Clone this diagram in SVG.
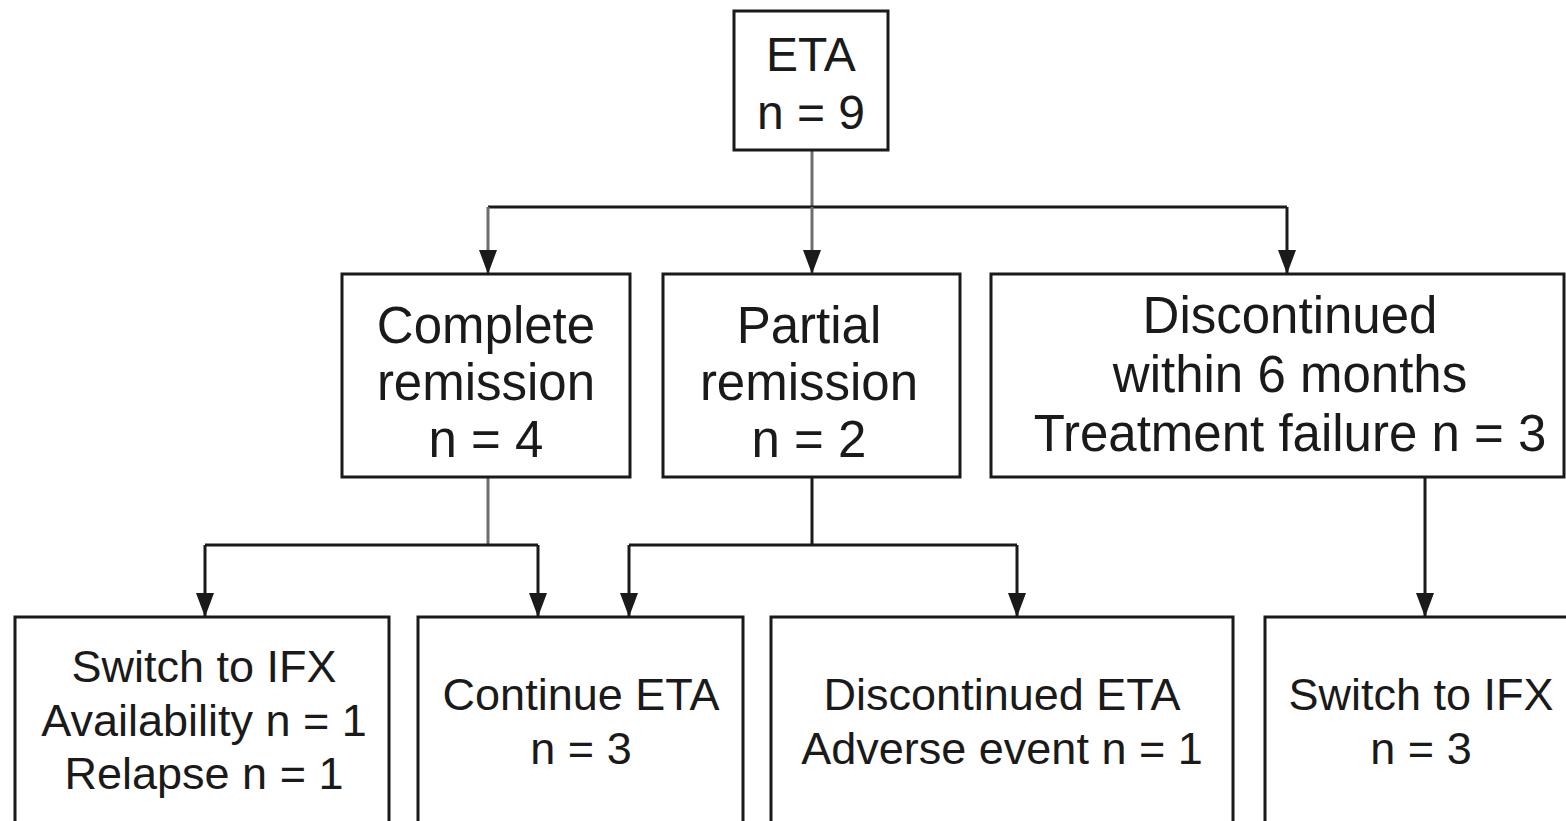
<svg xmlns="http://www.w3.org/2000/svg" width="1566" height="821" viewBox="0 0 1566 821">
  <style>
    .box { fill: #ffffff; stroke: #1a1a1a; stroke-width: 3; }
    .lbl { font-family: "Liberation Sans", Arial, Helvetica, sans-serif; fill: #1a1a1a; text-anchor: middle; }
    .top { font-size: 48px; }
    .mid { font-size: 51px; }
    .low { font-size: 45px; }
    .wire { fill: none; stroke: #1a1a1a; stroke-width: 3; }
    .soft { stroke: #6e6e6e; }
  </style>
  <defs>
    <marker id="arrow" viewBox="0 -9 24 18" refX="24" refY="0" markerWidth="24" markerHeight="18" markerUnits="userSpaceOnUse" orient="auto">
      <path d="M0,-9 L24,0 L0,9 Z" fill="#1a1a1a"/>
    </marker>
  </defs>

  <rect width="1566" height="821" fill="#ffffff"/>

  <!-- connectors -->
  <g id="connectors">
    <path class="wire soft" d="M812,150 V207"/>
    <path class="wire" d="M488,207 H1287"/>
    <path class="wire soft" d="M488,207 V274" marker-end="url(#arrow)"/>
    <path class="wire soft" d="M812,207 V274" marker-end="url(#arrow)"/>
    <path class="wire" d="M1287,207 V274" marker-end="url(#arrow)"/>

    <path class="wire soft" d="M488,477 V545"/>
    <path class="wire" d="M205,545 H538"/>
    <path class="wire" d="M205,545 V617" marker-end="url(#arrow)"/>
    <path class="wire" d="M538,545 V617" marker-end="url(#arrow)"/>

    <path class="wire" d="M812,477 V545"/>
    <path class="wire" d="M629,545 H1017"/>
    <path class="wire" d="M629,545 V617" marker-end="url(#arrow)"/>
    <path class="wire" d="M1017,545 V617" marker-end="url(#arrow)"/>

    <path class="wire" d="M1425,477 V617" marker-end="url(#arrow)"/>
  </g>

  <!-- root -->
  <g id="eta">
    <rect class="box" x="734" y="11" width="154" height="139"/>
    <text class="lbl top" x="811" y="71">ETA</text>
    <text class="lbl top" x="811" y="129">n = 9</text>
  </g>

  <!-- first-level outcomes -->
  <g id="complete-remission">
    <rect class="box" x="342" y="274" width="288" height="203"/>
    <text class="lbl mid" x="486" y="343">Complete</text>
    <text class="lbl mid" x="486" y="400">remission</text>
    <text class="lbl mid" x="486" y="457">n = 4</text>
  </g>

  <g id="partial-remission">
    <rect class="box" x="663" y="274" width="297" height="203"/>
    <text class="lbl mid" x="809" y="343">Partial</text>
    <text class="lbl mid" x="809" y="400">remission</text>
    <text class="lbl mid" x="809" y="457">n = 2</text>
  </g>

  <g id="discontinued">
    <rect class="box" x="991" y="274" width="573" height="203"/>
    <text class="lbl mid" x="1290" y="333">Discontinued</text>
    <text class="lbl mid" x="1290" y="392">within 6 months</text>
    <text class="lbl mid" x="1290" y="451">Treatment failure n = 3</text>
  </g>

  <!-- second-level outcomes -->
  <g id="switch-ifx-cr">
    <rect class="box" x="15" y="617" width="374" height="230"/>
    <text class="lbl low" x="204" y="682">Switch to IFX</text>
    <text class="lbl low" x="204" y="736">Availability n = 1</text>
    <text class="lbl low" x="204" y="789">Relapse n = 1</text>
  </g>

  <g id="continue-eta">
    <rect class="box" x="418" y="617" width="325" height="230"/>
    <text class="lbl low" x="581" y="710">Continue ETA</text>
    <text class="lbl low" x="581" y="764">n = 3</text>
  </g>

  <g id="discontinued-eta">
    <rect class="box" x="771" y="617" width="462" height="230"/>
    <text class="lbl low" x="1002" y="710">Discontinued ETA</text>
    <text class="lbl low" x="1002" y="764">Adverse event n = 1</text>
  </g>

  <g id="switch-ifx-tf">
    <rect class="box" x="1265" y="617" width="330" height="230"/>
    <text class="lbl low" x="1421" y="710">Switch to IFX</text>
    <text class="lbl low" x="1421" y="764">n = 3</text>
  </g>
</svg>
